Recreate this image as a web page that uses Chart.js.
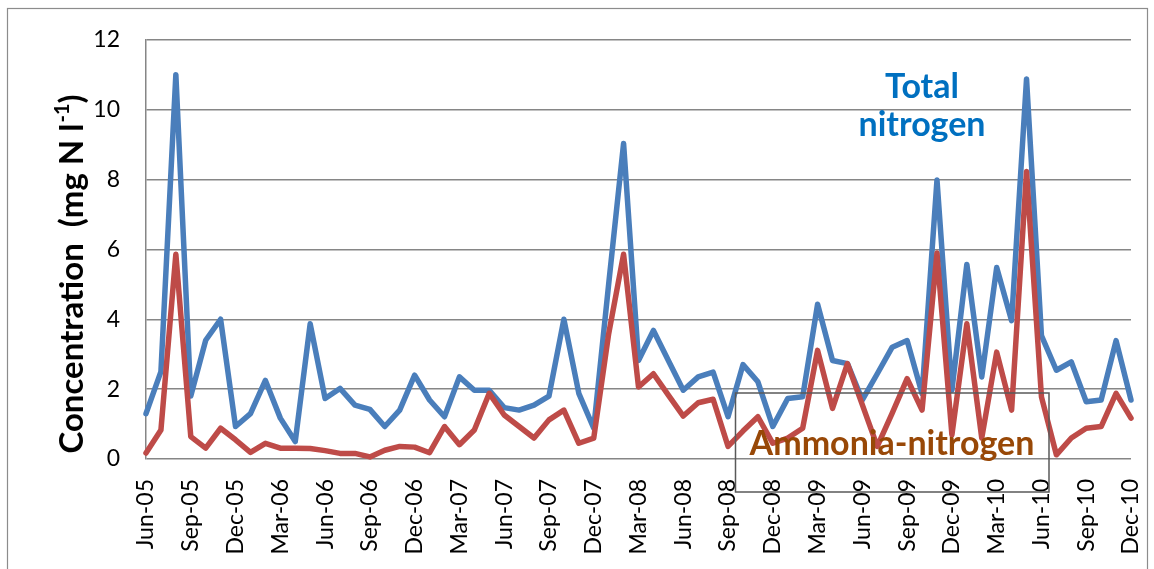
<!DOCTYPE html>
<html>
<head>
<meta charset="utf-8">
<script src="https://cdn.jsdelivr.net/npm/chart.js@4"></script>
<style>
  html, body { margin: 0; padding: 0; background: #ffffff; }
  #chartBox { width: 1154px; height: 569px; }
</style>
</head>
<body>
<div id="chartBox"><canvas id="nitrogenChart" width="1154" height="569"></canvas></div>
<script>
// month labels (every third one is shown on the axis)
const months = [
    "Jun-05", "Jul-05", "Aug-05", "Sep-05", "Oct-05", "Nov-05", "Dec-05",
    "Jan-06", "Feb-06", "Mar-06", "Apr-06", "May-06", "Jun-06", "Jul-06", "Aug-06", "Sep-06", "Oct-06", "Nov-06", "Dec-06",
    "Jan-07", "Feb-07", "Mar-07", "Apr-07", "May-07", "Jun-07", "Jul-07", "Aug-07", "Sep-07", "Oct-07", "Nov-07", "Dec-07",
    "Jan-08", "Feb-08", "Mar-08", "Apr-08", "May-08", "Jun-08", "Jul-08", "Aug-08", "Sep-08", "Oct-08", "Nov-08", "Dec-08",
    "Jan-09", "Feb-09", "Mar-09", "Apr-09", "May-09", "Jun-09", "Jul-09", "Aug-09", "Sep-09", "Oct-09", "Nov-09", "Dec-09",
    "Jan-10", "Feb-10", "Mar-10", "Apr-10", "May-10", "Jun-10", "Jul-10", "Aug-10", "Sep-10", "Oct-10", "Nov-10", "Dec-10"
];

// total nitrogen (mg N/l)
const totalNitrogen = [
    1.30, 2.50, 11.0, 1.80, 3.40, 4.00, 0.93,
    1.30, 2.25, 1.17, 0.50, 3.87, 1.73, 2.02, 1.54, 1.42, 0.93, 1.40, 2.40,
    1.69, 1.21, 2.35, 1.97, 1.97, 1.47, 1.40, 1.54, 1.80, 4.00, 1.88, 0.88,
    5.00, 9.03, 2.82, 3.68, 2.82, 1.97, 2.35, 2.49, 1.21, 2.70, 2.21, 0.93,
    1.73, 1.78, 4.43, 2.82, 2.73, 1.69, 2.44, 3.20, 3.39, 1.87, 7.99, 1.97,
    5.57, 2.35, 5.48, 3.96, 10.88, 3.53, 2.54, 2.78, 1.64, 1.69, 3.39, 1.69
];

// ammonia nitrogen (mg N/l)
const ammoniaNitrogen = [
    0.17, 0.83, 5.86, 0.64, 0.31, 0.88, 0.55,
    0.19, 0.45, 0.31, 0.31, 0.30, 0.24, 0.16, 0.16, 0.06, 0.25, 0.36, 0.34,
    0.18, 0.93, 0.41, 0.83, 1.88, 1.26, 0.93, 0.60, 1.12, 1.40, 0.45, 0.60,
    3.58, 5.86, 2.06, 2.44, 1.83, 1.23, 1.61, 1.71, 0.36, 0.80, 1.21, 0.45,
    0.60, 0.88, 3.11, 1.45, 2.73, 1.55, 0.36, 1.31, 2.30, 1.40, 5.90, 0.69,
    3.87, 0.60, 3.06, 1.40, 8.23, 1.78, 0.12, 0.60, 0.88, 0.93, 1.88, 1.17
];

const FONT = "Lato, 'Open Sans', sans-serif";

// texts drawn on top of the chart: frame, axis title, series captions
const overlayPlugin = {
    id: 'overlay',
    afterDatasetsDraw(chart) {
        const c = chart.ctx;
        c.save();

        // outer frame
        c.strokeStyle = '#8c8c8c';
        c.lineWidth = 1.2;
        c.strokeRect(7.5, 8.5, 1140, 600);

        // y axis title with superscript
        const big = 'bold 33px ' + FONT;
        const small = 'bold 20px ' + FONT;
        const part1 = 'Concentration  (mg N l';
        const sup = '-1';
        const part3 = ')';
        c.font = big;
        const w1 = c.measureText(part1).width;
        const w3 = c.measureText(part3).width;
        c.font = small;
        const w2 = c.measureText(sup).width;
        const total = w1 + w2 + 1 + w3;
        c.translate(71, 274);
        c.rotate(-Math.PI / 2);
        c.fillStyle = '#000000';
        c.textBaseline = 'alphabetic';
        c.textAlign = 'left';
        let x = -total / 2;
        c.font = big;
        c.fillText(part1, x, 12);
        x += w1;
        c.font = small;
        c.fillText(sup, x + 1, -2);
        x += w2 + 1;
        c.font = big;
        c.fillText(part3, x, 12);
        c.setTransform(1, 0, 0, 1, 0, 0);

        // "Total nitrogen" caption
        c.font = 'bold 34px ' + FONT;
        c.fillStyle = '#0070C0';
        c.textAlign = 'center';
        c.fillText('Total', 922, 98);
        c.fillText('nitrogen', 922, 136);

        // "Ammonia-nitrogen" caption in a box
        c.strokeStyle = '#595959';
        c.lineWidth = 1.5;
        c.strokeRect(735.5, 393, 313.5, 99);
        c.fillStyle = '#984807';
        c.fillText('Ammonia-nitrogen', 892, 455);

        c.restore();
    }
};

const ctx = document.getElementById('nitrogenChart');
const nitrogenChart = new Chart(ctx, {
    type: 'line',
    data: {
        labels: months,
        datasets: [
            {
                label: 'Total nitrogen',
                data: totalNitrogen,
                borderColor: '#4A7EBB',
                borderWidth: 5.5,
                borderJoinStyle: 'round',
                borderCapStyle: 'round',
                pointRadius: 0,
                tension: 0,
                order: 1,
                clip: false
            },
            {
                label: 'Ammonia-nitrogen',
                data: ammoniaNitrogen,
                borderColor: '#BE4B48',
                borderWidth: 5.5,
                borderJoinStyle: 'round',
                borderCapStyle: 'round',
                pointRadius: 0,
                tension: 0,
                order: 0,
                clip: false
            }
        ]
    },
    options: {
        responsive: false,
        devicePixelRatio: 1,
        animation: false,
        layout: {
            padding: { left: 0, top: 37, right: 23, bottom: 0 }
        },
        plugins: {
            legend: { display: false },
            tooltip: { enabled: false },
            title: { display: false }
        },
        scales: {
            x: {
                offset: false,
                grid: { display: false, drawTicks: false },
                border: { display: false },
                ticks: {
                    autoSkip: false,
                    maxRotation: 90,
                    minRotation: 90,
                    padding: 20,
                    color: '#000000',
                    font: { family: FONT, size: 23 },
                    callback: function (value, index) {
                        return index % 3 === 0 ? months[index] : '';
                    }
                },
                afterFit: function (scale) {
                    scale.height = 110;
                    scale.paddingLeft = 0;
                    scale.paddingRight = 0;
                }
            },
            y: {
                min: 0,
                max: 12,
                grid: { color: '#868686', lineWidth: 1.5, drawTicks: false },
                border: { display: true, color: '#868686', width: 1.5 },
                ticks: {
                    stepSize: 2,
                    padding: 26,
                    color: '#000000',
                    font: { family: FONT, size: 23 }
                },
                afterFit: function (scale) {
                    scale.width = 146;
                }
            }
        }
    },
    plugins: [overlayPlugin]
});
</script>
</body>
</html>
